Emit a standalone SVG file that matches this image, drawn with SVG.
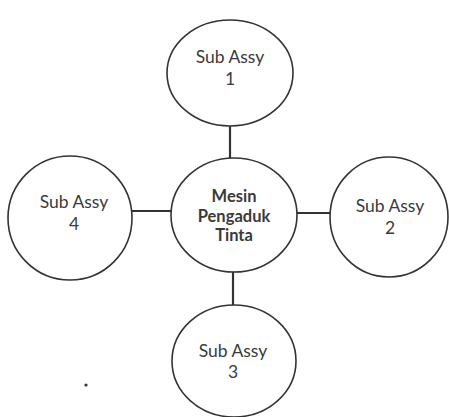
<svg xmlns="http://www.w3.org/2000/svg" width="449" height="417" viewBox="0 0 449 417">
<style>
.n{fill:#fff;stroke:#333;stroke-width:1.6}
.t{font-family:Lato,"Open Sans","Liberation Sans",sans-serif;font-size:17.5px;fill:#3a3a3a;text-anchor:middle}
.b{font-weight:bold;font-size:16.5px}
.c line{stroke:#333;stroke-width:2.2}
</style>
<rect width="449" height="417" fill="#fff"/>
<g class="c" id="connectors">
<line x1="230" y1="126" x2="230" y2="158"/>
<line x1="233" y1="271" x2="233" y2="305"/>
<line x1="132" y1="211" x2="171" y2="211"/>
<line x1="297" y1="213" x2="330" y2="213"/>
</g>
<g id="center">
<ellipse class="n" cx="234" cy="215" rx="63" ry="57"/>
<text class="t b" x="234" y="202">Mesin</text>
<text class="t b" x="234" y="222">Pengaduk</text>
<text class="t b" x="234" y="241">Tinta</text>
</g>
<g id="sub1">
<ellipse class="n" cx="230" cy="73" rx="63" ry="53"/>
<text class="t" x="230" y="63">Sub Assy</text>
<text class="t" x="230" y="85">1</text>
</g>
<g id="sub2">
<ellipse class="n" cx="389" cy="217" rx="59" ry="60"/>
<text class="t" x="390" y="212">Sub Assy</text>
<text class="t" x="390" y="234">2</text>
</g>
<g id="sub3">
<ellipse class="n" cx="234" cy="361" rx="62" ry="56"/>
<text class="t" x="233" y="357">Sub Assy</text>
<text class="t" x="233" y="378">3</text>
</g>
<g id="sub4">
<ellipse class="n" cx="70" cy="218" rx="62" ry="62"/>
<text class="t" x="74" y="208">Sub Assy</text>
<text class="t" x="74" y="230">4</text>
</g>
<circle cx="86" cy="385" r="1.6" fill="#333"/>
</svg>
